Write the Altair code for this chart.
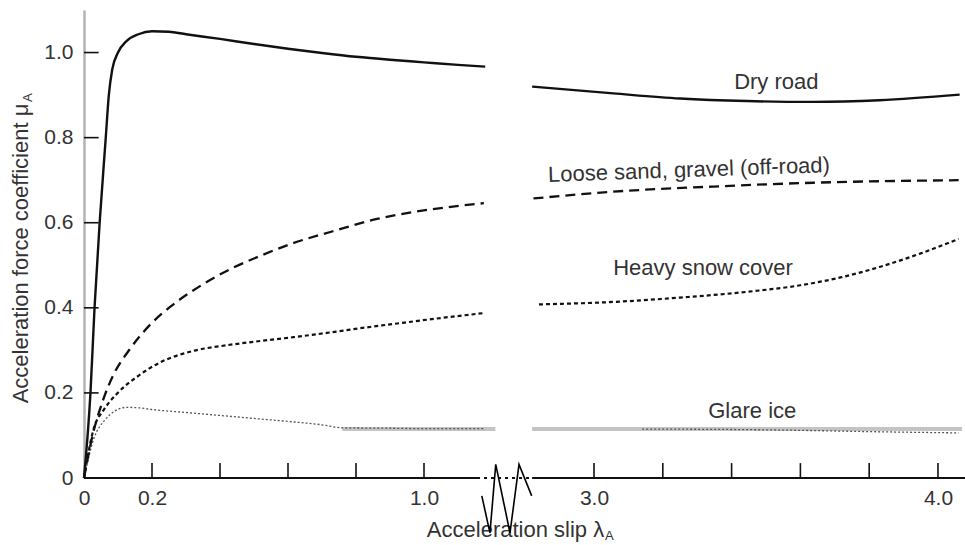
import altair as alt
import pandas as pd

# ---------------- data ----------------
# Dry road (solid)
dry_left_x = [0, 0.019, 0.031, 0.046, 0.064, 0.073, 0.083, 0.1, 0.125, 0.16, 0.2, 0.25, 0.3, 0.4, 0.5, 0.6, 0.7, 0.8, 0.9, 1.0, 1.1, 1.18]
dry_left_y = [0, 0.2, 0.4, 0.6, 0.8, 0.9, 0.96, 1.0, 1.027, 1.043, 1.05, 1.049, 1.043, 1.032, 1.02, 1.009, 0.999, 0.99, 0.983, 0.977, 0.971, 0.967]
dry_right_x = [2.82, 3.056, 3.25, 3.444, 3.637, 3.83, 4.063]
dry_right_y = [0.92, 0.904, 0.892, 0.886, 0.884, 0.888, 0.901]

# Loose sand, gravel (long dashes)
sand_left_x = [0, 0.024, 0.056, 0.085, 0.135, 0.194, 0.253, 0.341, 0.438, 0.518, 0.615, 0.732, 0.862, 1.009, 1.176]
sand_left_y = [0, 0.096, 0.183, 0.240, 0.303, 0.360, 0.402, 0.451, 0.494, 0.522, 0.552, 0.580, 0.609, 0.630, 0.646]
sand_right_x = [2.824, 3.056, 3.347, 3.637, 4.06]
sand_right_y = [0.657, 0.673, 0.685, 0.694, 0.70]

# Heavy snow cover (short dashes)
snow_left_x = [0, 0.029, 0.058, 0.098, 0.156, 0.225, 0.323, 0.42, 0.518, 0.616, 0.714, 0.812, 0.91, 1.008, 1.18]
snow_left_y = [0, 0.117, 0.16, 0.199, 0.238, 0.272, 0.299, 0.312, 0.322, 0.331, 0.341, 0.352, 0.362, 0.372, 0.388]
snow_right_x = [2.84, 3.06, 3.25, 3.45, 3.6, 3.72, 3.83, 3.95, 4.06]
snow_right_y = [0.408, 0.414, 0.424, 0.438, 0.453, 0.472, 0.496, 0.528, 0.562]

# Glare ice (fine dots) and its grey band
ice_left_x = [0, 0.03, 0.06, 0.09, 0.125, 0.16, 0.2, 0.3, 0.4, 0.5, 0.6, 0.7, 0.76, 0.9, 1.0, 1.18]
ice_left_y = [0, 0.095, 0.135, 0.157, 0.166, 0.165, 0.161, 0.154, 0.147, 0.14, 0.133, 0.125, 0.118, 0.117, 0.116, 0.116]
ice_right_x = [3.14, 3.4, 3.6, 3.8, 4.06]
ice_right_y = [0.115, 0.114, 0.112, 0.109, 0.106]
band_left_x = [0.76, 1.21]
band_right_x = [2.82, 4.07]
band_y = [0.115, 0.115]

# axis ticks / labels
x_label_values = [0, 0.2, 1.0, 3.0, 4.0]
x_tick_values = [0.2, 0.4, 0.6, 0.8, 1.0, 3.0, 3.2, 3.4, 3.6, 3.8, 4.0]
y_tick_values = [0.2, 0.4, 0.6, 0.8, 1.0]
y_label_values = [0, 0.2, 0.4, 0.6, 0.8, 1.0]

# broken axis: piecewise x scale
x_breaks = [0, 1.25, 2.82, 4.08]
x_break_px = [0, 425, 448.1, 881.5]
axis_left_end = 1.156
axis_right_start = 2.82
axis_right_end = 4.08

# break symbol (zig-zag) in data units
zig_x = [1.170, 1.194, 1.211, 1.318, 1.930, 2.793]
zig_y = [-0.042, -0.129, 0.032, -0.129, 0.032, -0.042]

# curve labels
label_text = ["Dry road", "Loose sand, gravel (off-road)", "Heavy snow cover", "Glare ice"]
label_x = [3.53, 3.276, 3.317, 3.46]
label_y = [0.931, 0.724, 0.493, 0.158]
label_angle = [0, 358, 0, 0]

FONT = "Liberation Sans"
TXT = "#333333"


def seg(part, xs, ys):
    return pd.DataFrame({"part": part, "x": xs, "y": ys, "i": list(range(len(xs)))})


dry = pd.concat([seg("l", dry_left_x, dry_left_y), seg("r", dry_right_x, dry_right_y)])
sand = pd.concat([seg("l", sand_left_x, sand_left_y), seg("r", sand_right_x, sand_right_y)])
snow = pd.concat([seg("l", snow_left_x, snow_left_y), seg("r", snow_right_x, snow_right_y)])
ice = pd.concat([seg("l", ice_left_x, ice_left_y), seg("r", ice_right_x, ice_right_y)])
band = pd.concat([seg("l", band_left_x, band_y), seg("r", band_right_x, band_y)])

xscale = alt.Scale(domain=x_breaks, range=x_break_px, zero=False, nice=False)
yscale = alt.Scale(domain=[0, 1.1], zero=False, nice=False)

xaxis = alt.Axis(
    values=x_label_values, domain=False, ticks=False, grid=False,
    labelExpr="datum.value == 0 ? '0' : format(datum.value, '.1f')",
    labelFont=FONT, labelFontSize=21, labelColor=TXT, labelPadding=9,
    labelFlush=False, labelOverlap=False,
    title="Acceleration slip λ", titleFont=FONT, titleFontSize=22, titleFontWeight="normal",
    titleColor=TXT, titleX=431, titleY=58, titleAlign="center", titleBaseline="alphabetic",
)
yaxis = alt.Axis(
    values=y_label_values, ticks=False, grid=False,
    domainColor="#b3b3b3", domainWidth=2.5,
    labelExpr="datum.value == 0 ? '0' : format(datum.value, '.1f')",
    labelFont=FONT, labelFontSize=21, labelColor=TXT, labelPadding=11,
    title="Acceleration force coefficient μ", titleFont=FONT, titleFontSize=22,
    titleFontWeight="normal", titleColor=TXT, titleAngle=270,
    titleX=-56.5, titleY=243, titleAlign="center", titleBaseline="alphabetic",
)


def X():
    return alt.X("x:Q", scale=xscale, axis=xaxis)


def Y():
    return alt.Y("y:Q", scale=yscale, axis=yaxis)


def line_layer(df, color, width, dash=None, interp="monotone"):
    kw = dict(color=color, strokeWidth=width, interpolate=interp)
    if dash:
        kw["strokeDash"] = dash
    return alt.Chart(df).mark_line(**kw).encode(
        x=X(), y=Y(), detail="part:N", order="i:Q",
    )


band_layer = line_layer(band, "#c4c4c4", 4, interp="linear")
ice_layer = line_layer(ice, "#555555", 1.3, dash=[2, 2])
snow_layer = line_layer(snow, "#111111", 2.2, dash=[4, 3])
sand_layer = line_layer(sand, "#111111", 2.3, dash=[10, 6])
dry_layer = line_layer(dry, "#111111", 2.4)

# x-axis line: solid, dotted through the break, solid
axis_solid_df = pd.DataFrame({"x": [0, axis_right_start], "x2": [axis_left_end, axis_right_end], "y": [0, 0]})
axis_dotted_df = pd.DataFrame({"x": [axis_left_end], "x2": [axis_right_start], "y": [0]})
axis_solid = alt.Chart(axis_solid_df).mark_rule(color="#111111", strokeWidth=2).encode(
    x=X(), x2="x2:Q", y=Y()
)
axis_dotted = alt.Chart(axis_dotted_df).mark_rule(
    color="#111111", strokeWidth=2, strokeDash=[3, 4]
).encode(x=X(), x2="x2:Q", y=Y())

# inward ticks
tick_len_y = 0.035
tick_len_x = 0.043
xt = pd.DataFrame({"x": x_tick_values, "y": 0.0, "y2": tick_len_y})
yt = pd.DataFrame({"y": y_tick_values, "x": 0.0, "x2": tick_len_x})
xticks = alt.Chart(xt).mark_rule(color="#111111", strokeWidth=1.6).encode(x=X(), y=Y(), y2="y2:Q")
yticks = alt.Chart(yt).mark_rule(color="#111111", strokeWidth=1.6).encode(x=X(), x2="x2:Q", y=Y())

# zig-zag break symbol
zig = pd.DataFrame({"x": zig_x, "y": zig_y, "i": list(range(len(zig_x)))})
zig_layer = alt.Chart(zig).mark_line(color="#000000", strokeWidth=1.6, clip=False).encode(
    x=X(), y=Y(), order="i:Q"
)

# curve labels
lab = pd.DataFrame({"t": label_text, "x": label_x, "y": label_y, "a": label_angle})
labels = alt.Chart(lab).mark_text(
    font=FONT, fontSize=22, color=TXT, align="center", baseline="middle"
).encode(x=X(), y=Y(), text="t:N", angle=alt.Angle("a:Q", scale=None))

# subscripts "A" of the axis titles
sub_y = alt.Chart(pd.DataFrame({"t": ["A"]})).mark_text(
    font=FONT, fontSize=13, color=TXT, angle=270, align="left", baseline="alphabetic"
).encode(x=alt.value(-52), y=alt.value(92), text="t:N")
sub_x = alt.Chart(pd.DataFrame({"t": ["A"]})).mark_text(
    font=FONT, fontSize=13, color=TXT, align="left", baseline="alphabetic"
).encode(x=alt.value(521), y=alt.value(530), text="t:N")

chart = alt.layer(
    band_layer, ice_layer, snow_layer, sand_layer, dry_layer,
    axis_solid, axis_dotted, xticks, yticks, zig_layer, labels, sub_y, sub_x,
).properties(
    width=881, height=468,
    autosize=alt.AutoSizeParams(type="none"),
    padding={"left": 84, "top": 10, "right": 0, "bottom": 67},
    background="white",
).configure_view(strokeWidth=0)

chart.save("out.html", embed_options={"renderer": "svg", "actions": False})
